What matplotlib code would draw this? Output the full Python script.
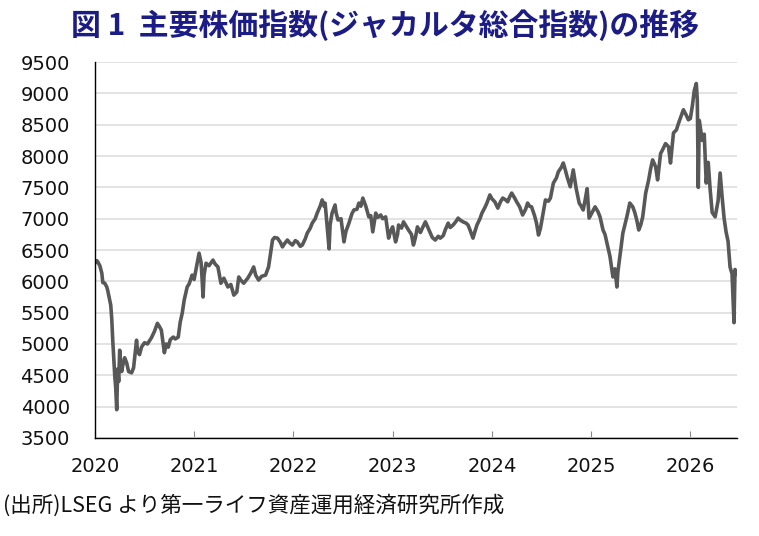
import matplotlib
matplotlib.use('Agg')
import matplotlib.pyplot as plt
import numpy as np

plt.rcParams['font.family'] = ['DejaVu Sans', 'Noto Sans CJK JP']

# decimal year and index level (one row per year)
years = [
    2020.00, 2020.02, 2020.03, 2020.05, 2020.07, 2020.08, 2020.10, 2020.12, 2020.13, 2020.15,
    2020.16, 2020.17, 2020.18, 2020.20, 2020.21, 2020.22, 2020.23, 2020.24, 2020.25, 2020.26,
    2020.27, 2020.28, 2020.30, 2020.32, 2020.34, 2020.37, 2020.39, 2020.42, 2020.43, 2020.45,
    2020.47, 2020.50, 2020.53, 2020.57, 2020.60, 2020.63, 2020.65, 2020.67, 2020.70, 2020.72,
    2020.74, 2020.76, 2020.79, 2020.81, 2020.84, 2020.86, 2020.88, 2020.90, 2020.93, 2020.95,
    2020.98,
    2021.00, 2021.02, 2021.05, 2021.07, 2021.08, 2021.09, 2021.10, 2021.12, 2021.15, 2021.19,
    2021.21, 2021.24, 2021.27, 2021.30, 2021.34, 2021.37, 2021.40, 2021.43, 2021.45, 2021.47,
    2021.50, 2021.54, 2021.57, 2021.60, 2021.62, 2021.65, 2021.68, 2021.72, 2021.75, 2021.77,
    2021.79, 2021.81, 2021.84, 2021.87, 2021.89, 2021.91, 2021.94, 2021.96, 2021.99,
    2022.02, 2022.04, 2022.07, 2022.09, 2022.12, 2022.14, 2022.17, 2022.19, 2022.22, 2022.24,
    2022.27, 2022.29, 2022.31, 2022.32, 2022.35, 2022.36, 2022.37, 2022.39, 2022.42, 2022.43,
    2022.45, 2022.48, 2022.51, 2022.53, 2022.56, 2022.59, 2022.61, 2022.64, 2022.66, 2022.68,
    2022.70, 2022.73, 2022.76, 2022.78, 2022.80, 2022.83, 2022.85, 2022.88, 2022.90, 2022.93,
    2022.96, 2022.98,
    2023.00, 2023.03, 2023.05, 2023.06, 2023.09, 2023.11, 2023.14, 2023.16, 2023.19, 2023.21,
    2023.23, 2023.25, 2023.28, 2023.30, 2023.33, 2023.35, 2023.38, 2023.40, 2023.43, 2023.46,
    2023.48, 2023.51, 2023.53, 2023.56, 2023.58, 2023.61, 2023.64, 2023.66, 2023.68, 2023.71,
    2023.74, 2023.76, 2023.78, 2023.81, 2023.83, 2023.85, 2023.88, 2023.90, 2023.93, 2023.95,
    2023.98,
    2024.00, 2024.03, 2024.06, 2024.09, 2024.11, 2024.14, 2024.16, 2024.18, 2024.20, 2024.23,
    2024.25, 2024.28, 2024.31, 2024.34, 2024.36, 2024.38, 2024.40, 2024.43, 2024.45, 2024.47,
    2024.49, 2024.51, 2024.54, 2024.57, 2024.59, 2024.62, 2024.65, 2024.67, 2024.70, 2024.72,
    2024.74, 2024.76, 2024.79, 2024.82, 2024.85, 2024.88, 2024.90, 2024.92, 2024.94, 2024.96,
    2024.98,
    2025.01, 2025.04, 2025.07, 2025.09, 2025.12, 2025.14, 2025.16, 2025.19, 2025.22, 2025.24,
    2025.26, 2025.27, 2025.29, 2025.32, 2025.34, 2025.36, 2025.39, 2025.42, 2025.44, 2025.46,
    2025.48, 2025.50, 2025.52, 2025.55, 2025.58, 2025.60, 2025.62, 2025.65, 2025.67, 2025.70,
    2025.72, 2025.75, 2025.78, 2025.80, 2025.83, 2025.86, 2025.88, 2025.91, 2025.93, 2025.96,
    2025.98,
    2026.00, 2026.02, 2026.04, 2026.06, 2026.07, 2026.08, 2026.09, 2026.12, 2026.14, 2026.16,
    2026.18, 2026.20, 2026.22, 2026.25, 2026.28, 2026.30, 2026.32, 2026.34, 2026.36, 2026.38,
    2026.40, 2026.42, 2026.44, 2026.45, 2026.47,
]
jci = [
    6290, 6330, 6310, 6250, 6130, 5980, 5970, 5910, 5850, 5700,
    5620, 5400, 5060, 4500, 4300, 3950, 4600, 4400, 4900, 4700,
    4560, 4650, 4780, 4700, 4560, 4540, 4620, 5060, 4880, 4830,
    4950, 5020, 5000, 5100, 5200, 5330, 5280, 5220, 4860, 5000,
    4950, 5070, 5110, 5080, 5110, 5350, 5490, 5700, 5910, 5960,
    6100,
    6030, 6200, 6450, 6300, 6050, 5750, 6100, 6290, 6250, 6340,
    6280, 6230, 5970, 6050, 5910, 5950, 5780, 5830, 6070, 6020,
    5970, 6050, 6130, 6230, 6100, 6020, 6080, 6100, 6230, 6450,
    6660, 6700, 6690, 6620, 6550, 6600, 6660, 6620, 6580,
    6650, 6630, 6560, 6580, 6680, 6770, 6850, 6930, 7000, 7090,
    7200, 7300, 7200, 7250, 6710, 6520, 6900, 7090, 7220, 7100,
    6980, 7000, 6630, 6800, 6930, 7080, 7140, 7150, 7250, 7200,
    7330, 7200, 7030, 7050, 6790, 7090, 7020, 7060, 7000, 7030,
    6690, 6800,
    6870, 6630, 6750, 6900, 6850, 6950, 6870, 6820, 6750, 6580,
    6700, 6870, 6780, 6850, 6950, 6880, 6770, 6700, 6660, 6720,
    6690, 6730, 6820, 6930, 6860, 6900, 6960, 7010, 6980, 6950,
    6930, 6900, 6820, 6690, 6800, 6900, 7000, 7090, 7180, 7250,
    7380,
    7320, 7270, 7170, 7280, 7330, 7300, 7270, 7350, 7410, 7330,
    7270, 7190, 7060, 7150, 7250, 7200, 7190, 7050, 6930, 6740,
    6850, 7030, 7300, 7280, 7330, 7570, 7650, 7750, 7820, 7890,
    7780, 7660, 7510, 7780, 7480, 7250, 7200, 7140, 7300, 7480,
    7010,
    7100, 7190, 7110, 7030, 6820, 6750, 6610, 6400, 6070, 6200,
    5910, 6150, 6400, 6770, 6900, 7030, 7250, 7190, 7100, 6980,
    6820, 6900, 7030, 7410, 7620, 7800, 7940, 7830, 7620, 8040,
    8100, 8200, 8150, 7890, 8370, 8420, 8520, 8650, 8740, 8650,
    8580,
    8600, 8800, 9050, 9160, 8900, 7500, 8570, 8250, 8350, 7570,
    7900, 7460, 7100, 7030, 7290, 7730, 7350, 7010, 6790, 6640,
    6230, 6120, 5340, 6190, 6120,
]
year_ticks = [2020, 2021, 2022, 2023, 2024, 2025, 2026]
y_ticks = np.arange(3500, 9501, 500)

fig = plt.figure(figsize=(7.59, 5.36), dpi=100)
ax = fig.add_axes([0.125, 0.183, 0.846, 0.701])

ax.plot(years, jci, color='#585858', linewidth=2.6)

ax.set_xlim(2020, years[-1])
ax.set_ylim(3500, 9500)
ax.set_yticks(y_ticks)
ax.set_xticks(year_ticks)
ax.set_xticklabels([str(y) for y in year_ticks])

ax.grid(axis='y', color='#e3e3e3', linewidth=1.4)
ax.set_axisbelow(True)
for s in ['top', 'right']:
    ax.spines[s].set_visible(False)
ax.spines['left'].set_linewidth(1.0)
ax.spines['bottom'].set_linewidth(1.0)

ax.tick_params(axis='y', length=0, labelsize=14, pad=18, colors='#111111')
ax.tick_params(axis='x', direction='in', length=5, color='#888888',
               labelsize=14, pad=14, labelcolor='#111111')

fig.text(0.507, 0.953, '図 1  主要株価指数(ジャカルタ総合指数)の推移',
         ha='center', va='center', fontsize=21.5, fontweight='bold',
         color='#1c1c86', family=['Noto Sans CJK JP', 'DejaVu Sans'])
fig.text(0.004, 0.057, '(出所)LSEG より第一ライフ資産運用経済研究所作成',
         ha='left', va='center', fontsize=15.5,
         color='#111111', family=['Noto Sans CJK JP', 'DejaVu Sans'])

fig.savefig('out.png', dpi=100)
